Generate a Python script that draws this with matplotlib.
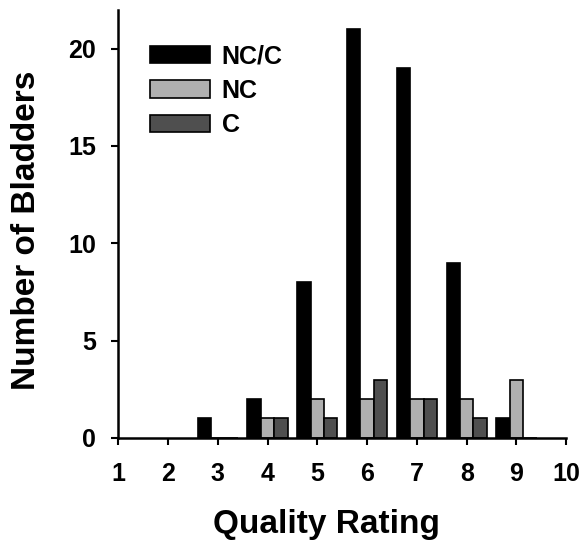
import numpy as np
import matplotlib.pyplot as plt

plt.rcParams["font.family"] = ["Liberation Sans", "DejaVu Sans"]
plt.rcParams["font.weight"] = "bold"

ratings = [3, 4, 5, 6, 7, 8, 9]
nc_c = [1, 2, 8, 21, 19, 9, 1]
nc = [0, 1, 2, 2, 2, 2, 3]
c = [0, 1, 1, 3, 2, 1, 0]

fig = plt.figure(figsize=(5.82, 5.42), dpi=100)
ax = fig.add_axes([0.203, 0.192, 0.770, 0.790])

x = np.array(ratings, dtype=float)
w = 0.27
ax.bar(x - w, nc_c, width=w, color="black", edgecolor="black", linewidth=1.2, label="NC/C")
ax.bar(x, nc, width=w, color="#b0b0b0", edgecolor="black", linewidth=1.2, label="NC")
ax.bar(x + w, c, width=w, color="#4f4f4f", edgecolor="black", linewidth=1.2, label="C")

ax.set_xlim(1, 10)
ax.set_ylim(0, 22)
ax.set_xticks(range(1, 11))
ax.set_yticks([0, 5, 10, 15, 20])
ax.tick_params(direction="out", length=5, width=1.5, labelsize=18)
ax.tick_params(axis="x", pad=12)
ax.tick_params(axis="y", pad=11)
for lab in ax.get_xticklabels() + ax.get_yticklabels():
    lab.set_fontweight("bold")
for s in ["top", "right"]:
    ax.spines[s].set_visible(False)
for s in ["left", "bottom"]:
    ax.spines[s].set_linewidth(1.8)

ax.set_xlabel("Quality Rating", fontsize=24, fontweight="bold")
ax.set_ylabel("Number of Bladders", fontsize=24, fontweight="bold")
ax.xaxis.set_label_coords(0.464, -0.166)
ax.yaxis.set_label_coords(-0.17, 0.484)

leg = ax.legend(loc="upper left", bbox_to_anchor=(0.02, 0.972), frameon=False,
                handlelength=2.4, handleheight=0.68, handletextpad=0.48,
                labelspacing=0.42, prop={"size": 18, "weight": "bold"})

fig.savefig("out.png", dpi=100)
